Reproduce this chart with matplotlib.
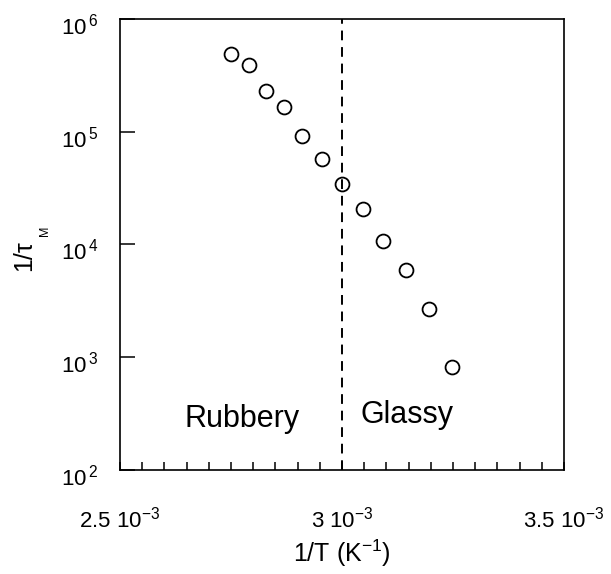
import matplotlib
matplotlib.use("Agg")
import matplotlib.pyplot as plt
from matplotlib.ticker import FixedLocator, MultipleLocator, NullLocator
from matplotlib.transforms import ScaledTranslation
import numpy as np

plt.rcParams["font.family"] = ["Liberation Sans", "DejaVu Sans"]
plt.rcParams["mathtext.fontset"] = "custom"
plt.rcParams["mathtext.rm"] = "Liberation Sans"
plt.rcParams["mathtext.it"] = "Liberation Sans:italic"

# data
inv_T = [2.750e-3, 2.790e-3, 2.829e-3, 2.870e-3, 2.910e-3, 2.956e-3,
         3.001e-3, 3.048e-3, 3.092e-3, 3.145e-3, 3.195e-3, 3.247e-3]
inv_tau = [4.86e5, 3.88e5, 2.30e5, 1.66e5, 9.2e4, 5.77e4,
           3.46e4, 2.07e4, 1.08e4, 5.90e3, 2.68e3, 8.15e2]
tg_line = 3.0e-3
x_ticks = [2.5e-3, 3.0e-3, 3.5e-3]
x_labels = [r"2.5 10$^{\mathregular{-3}}$", r"3 10$^{\mathregular{-3}}$", r"3.5 10$^{\mathregular{-3}}$"]
y_ticks = [1e2, 1e3, 1e4, 1e5, 1e6]
y_labels = [r"10$^{\mathregular{\,%d}}$" % k for k in range(2, 7)]

fig = plt.figure(figsize=(6.11, 5.74), dpi=100)
ax = fig.add_axes([0.1964, 0.1812, 0.7266, 0.7857])

ax.plot(inv_T, inv_tau, "o", mfc="white", mec="black", ms=10, mew=1.3, ls="none")
ax.axvline(tg_line, color="black", lw=1.4, ls=(0, (5, 3.5)))

ax.set_yscale("log")
ax.set_xlim(2.5e-3, 3.5e-3)
ax.set_ylim(1e2, 1e6)

ax.xaxis.set_major_locator(FixedLocator(x_ticks))
ax.set_xticklabels(x_labels)
ax.xaxis.set_minor_locator(MultipleLocator(0.05e-3))
ax.yaxis.set_major_locator(FixedLocator(y_ticks))
ax.set_yticklabels(y_labels)
ax.yaxis.set_minor_locator(NullLocator())

ax.tick_params(axis="x", which="both", direction="in", length=6, width=1.1,
               labelsize=16, pad=26, top=False)
ax.tick_params(axis="y", which="major", direction="in", length=11, width=1.1,
               labelsize=16, pad=16, right=False)
# the y labels sit a little below their ticks in the original
shift = ScaledTranslation(0, -5 / 100, fig.dpi_scale_trans)
for lab in ax.get_yticklabels():
    lab.set_transform(lab.get_transform() + shift)
for s in ax.spines.values():
    s.set_linewidth(1.2)

ax.text(2.775e-3, 240, "Rubbery", fontsize=22, ha="center", va="baseline")
ax.text(3.146e-3, 261, "Glassy", fontsize=22, ha="center", va="baseline")

ax.set_xlabel(r"1/T (K$^{\mathregular{-1}}$)", fontsize=18, labelpad=4)

# y label: 1/tau with a small, low "M" subscript
fig.text(24 / 611, 1 - 256 / 574, "1/τ", fontsize=18, rotation=90,
         ha="center", va="center")
fig.text(45 / 611, 1 - 231 / 574, "M", fontsize=9, rotation=90,
         ha="center", va="center")

fig.savefig("out.png", dpi=100)
